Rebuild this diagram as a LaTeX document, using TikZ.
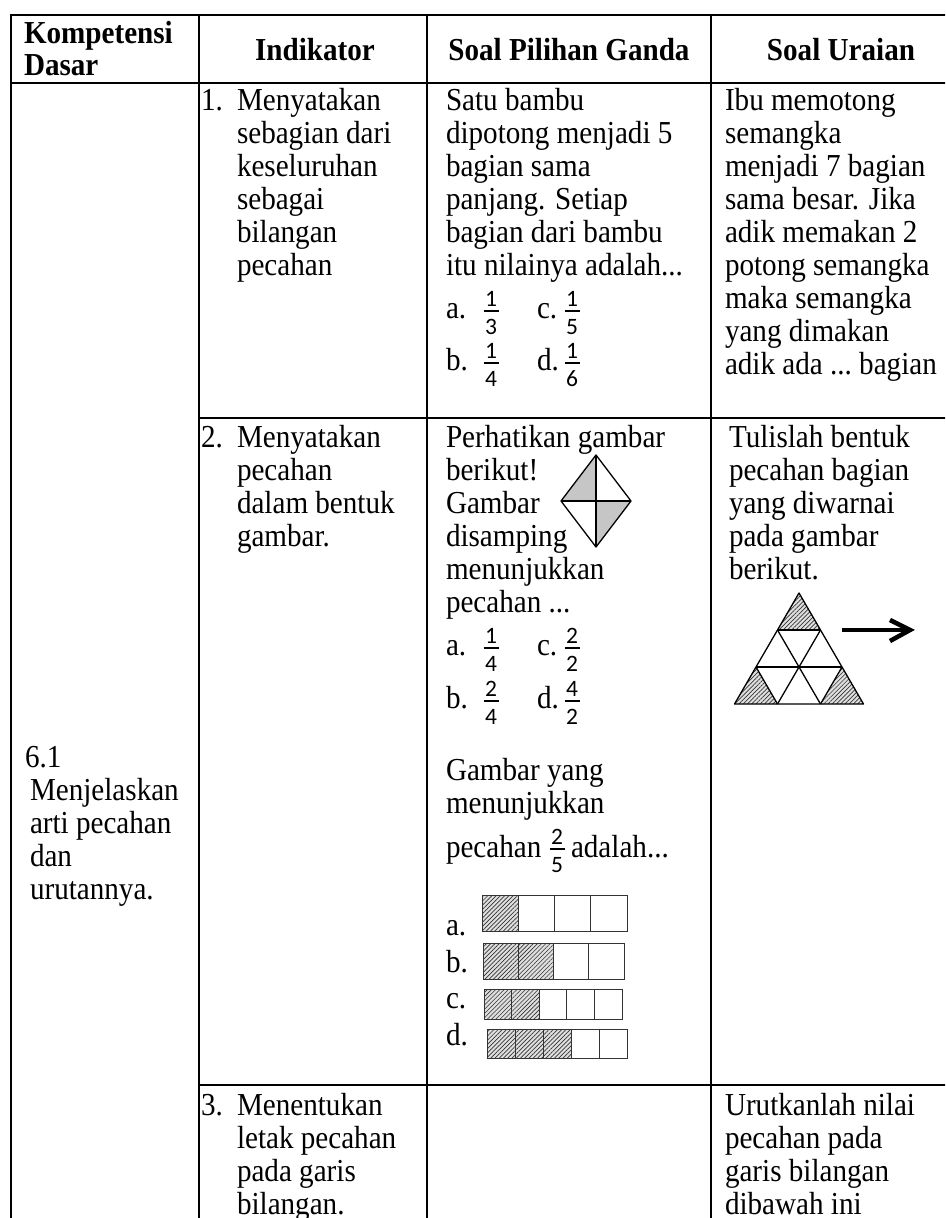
\documentclass[tikz,border=0pt]{standalone}
\usepackage{fontspec}
\setmainfont{Liberation Serif}[FakeStretch=0.91]
\newfontfamily\fracfont{Carlito}
\usetikzlibrary{patterns.meta}
\newcommand\tdots{...}
\tikzset{
  txt/.style={inner sep=0pt, outer sep=0pt, anchor=base west, font=\fontsize{32}{33}\selectfont},
  hdr/.style={txt, font=\fontsize{32}{33}\selectfont\bfseries},
  frc/.style={inner sep=0pt, anchor=base, font=\fracfont\fontsize{23.5}{23.5}\selectfont},
  tbl/.style={line width=2.3pt, line cap=rect},
  cell/.style={line width=0.9pt, draw=black!80},
  hatch/.style={preaction={fill=gray!25}, pattern={Lines[angle=45,distance=3pt,line width=0.65pt]}, pattern color=black!80},
  dotfill/.style={fill=gray!45},
  fig/.style={line width=1.3pt, line join=round},
}
\newcommand\txtlines[4]{\foreach \t [count=\i from 0] in {#4}{\node[txt] (#1-\i) at (#2,{#3+33*\i}) {\t};}}
\newcommand\fracat[5]{%
  \node[frc] (#1n) at (#2,#3-5) {#4};
  \node[frc] (#1d) at (#2,#3+23) {#5};
  \draw[line width=1.8pt] (#2-7.5,#3) -- (#2+7.5,#3);}
\newcommand\hatchbar[7]{%
  \foreach \i in {1,...,#6}{%
    \pgfmathsetmacro\xa{#2+(#3-#2)*(\i-1)/#6}%
    \pgfmathsetmacro\xb{#2+(#3-#2)*\i/#6}%
    \ifnum\i>#7\relax
      \draw[cell] (\xa,#4) rectangle (\xb,#5);
    \else
      \draw[cell,hatch] (\xa,#4) rectangle (\xb,#5);
    \fi}}
\begin{document}
\begin{tikzpicture}[x=1pt,y=-1pt]
\useasboundingbox (0,0) rectangle (945,1218);
\clip (0,0) rectangle (945,1218);
\fill[white] (0,0) rectangle (945,1218);

% table rules
\draw[tbl] (11,1230) -- (11,15) -- (960,15);
\draw[tbl] (11,83) -- (960,83);
\draw[tbl] (199,15) -- (199,1230);
\draw[tbl] (427,15) -- (427,1230);
\draw[tbl] (711,15) -- (711,1230);
\draw[tbl] (199,418) -- (960,418);
\draw[tbl] (199,1085) -- (960,1085);

% header
\node[hdr] (h1a) at (24,43) {Kompetensi};
\node[hdr] (h1b) at (24,75) {Dasar};
\node[hdr,anchor=base] (h2) at (315,60) {Indikator};
\node[hdr,anchor=base] (h3) at (569,60) {Soal Pilihan Ganda};
\node[hdr,anchor=base] (h4) at (841,60) {Soal Uraian};

% column 1
\node[txt] (kd0) at (25,767) {6.1};
\txtlines{kd}{30}{800}{Menjelaskan,arti pecahan,dan,urutannya.}

% row 1
\node[txt] (n1) at (201,110) {1.};
\txtlines{i1}{237}{110}{Menyatakan,sebagian dari,keseluruhan,sebagai,bilangan,pecahan}
\txtlines{p1}{446}{110}{Satu bambu,dipotong menjadi 5,bagian sama,panjang. Setiap,bagian dari bambu,itu nilainya adalah\tdots}
\node[txt] (p1a) at (446,318) {a.};
\fracat{f1a}{491}{311}{1}{3}
\node[txt] (p1c) at (537,318) {c.};
\fracat{f1c}{572}{311}{1}{5}
\node[txt] (p1b) at (446,370) {b.};
\fracat{f1b}{491}{363}{1}{4}
\node[txt] (p1d) at (537,370) {d.};
\fracat{f1d}{572}{363}{1}{6}
\txtlines{u1}{725}{110}{Ibu memotong,semangka,menjadi 7 bagian,sama besar. Jika,adik memakan 2,potong semangka,maka semangka,yang dimakan,adik ada \tdots\ bagian}

% row 2
\node[txt] (n2) at (201,447) {2.};
\txtlines{i2}{237}{447}{Menyatakan,pecahan,dalam bentuk,gambar.}
\txtlines{p2}{446}{447}{Perhatikan gambar,berikut!,Gambar,disamping,menunjukkan,pecahan \tdots}
% diamond
\coordinate (dT) at (596,455);
\coordinate (dL) at (561,501);
\coordinate (dR) at (631,501);
\coordinate (dB) at (596,547);
\coordinate (dC) at (596,501);
\fill[dotfill] (dT) -- (dL) -- (dC) -- cycle;
\fill[dotfill] (dC) -- (dR) -- (dB) -- cycle;
\draw[fig] (dT) -- (dR) -- (dB) -- (dL) -- cycle;
\draw[fig] (dT) -- (dB) (dL) -- (dR);

\node[txt] (p2a) at (446,655) {a.};
\fracat{f2a}{491}{648}{1}{4}
\node[txt] (p2c) at (537,655) {c.};
\fracat{f2c}{572}{648}{2}{2}
\node[txt] (p2b) at (446,708) {b.};
\fracat{f2b}{491}{701}{2}{4}
\node[txt] (p2d) at (537,708) {d.};
\fracat{f2d}{572}{701}{4}{2}

\txtlines{q2}{446}{780}{Gambar yang,menunjukkan}
\node[txt] (q2p) at (446,857) {pecahan};
\fracat{f2e}{557}{849}{2}{5}
\node[txt] (q2q) at (571,857) {adalah\tdots};

\node[txt] (ba) at (446,935) {a.};
\hatchbar{a}{482}{627}{895}{931}{4}{1}
\node[txt] (bb) at (446,972) {b.};
\hatchbar{b}{483}{624}{943}{979}{4}{2}
\node[txt] (bc) at (446,1008) {c.};
\hatchbar{c}{484}{622}{989}{1019}{5}{2}
\node[txt] (bd) at (446,1045) {d.};
\hatchbar{d}{487}{627}{1029}{1058}{5}{3}

\txtlines{u2}{729}{447}{Tulislah bentuk,pecahan bagian,yang diwarnai,pada gambar,berikut.}
% triangle
\coordinate (tA) at (799,593);
\coordinate (t1l) at (777.5,630);
\coordinate (t1r) at (820.5,630);
\coordinate (t2l) at (756,667);
\coordinate (t2m) at (799,667);
\coordinate (t2r) at (842,667);
\coordinate (t3a) at (734.5,704);
\coordinate (t3b) at (777.5,704);
\coordinate (t3c) at (820.5,704);
\coordinate (t3d) at (863.5,704);
\fill[hatch] (tA) -- (t1l) -- (t1r) -- cycle;
\fill[hatch] (t2l) -- (t3a) -- (t3b) -- cycle;
\fill[hatch] (t2r) -- (t3c) -- (t3d) -- cycle;
\draw[fig] (tA) -- (t3a) -- (t3d) -- cycle;
\draw[fig] (t1l) -- (t1r) (t2l) -- (t2r);
\draw[fig] (t1r) -- (t3b) (t2r) -- (t3c);
\draw[fig] (t1l) -- (t3c) (t2l) -- (t3b);
% arrow with shadow
\coordinate (aS) at (842,630);
\coordinate (aE) at (907,630);
\coordinate (aU) at (890,620);
\coordinate (aT) at (910,630);
\coordinate (aD) at (890,641);
\begin{scope}[shift={(3,5)}, line width=4pt, line join=miter]
  \draw[gray!55] (aS) -- (aE);
  \draw[gray!55] (aU) -- (aT) -- (aD);
\end{scope}
\draw[line width=4.5pt] (aS) -- (aE);
\draw[line width=4.5pt, line join=miter] (aU) -- (aT) -- (aD);

% row 3
\node[txt] (n3) at (201,1115) {3.};
\txtlines{i3}{237}{1115}{Menentukan,letak pecahan,pada garis,bilangan.}
\txtlines{u3}{725}{1115}{Urutkanlah nilai,pecahan pada,garis bilangan,dibawah ini}
\end{tikzpicture}
\end{document}
